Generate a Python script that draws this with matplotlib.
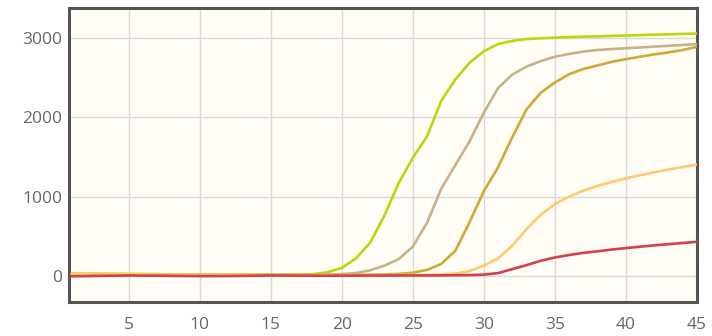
import matplotlib
matplotlib.use("Agg")
import matplotlib.pyplot as plt

cycles = list(range(1, 46))

green = [30, 28, 27, 26, 25, 24, 22, 20, 18, 16, 15, 14, 14, 14, 15, 15, 16,
         22, 45, 100, 220, 420, 760, 1170, 1490, 1760, 2210, 2480, 2690, 2835,
         2925, 2965, 2988, 2998, 3005, 3012, 3018, 3022, 3028, 3033, 3038,
         3043, 3048, 3053, 3058]
tan = [20, 19, 18, 17, 16, 15, 14, 13, 12, 12, 11, 11, 11, 11, 12, 12, 12,
       13, 15, 22, 35, 70, 130, 210, 370, 670, 1100, 1400, 1700, 2060, 2370,
       2540, 2640, 2710, 2765, 2800, 2830, 2850, 2862, 2872, 2882, 2893, 2903,
       2914, 2925]
gold = [15, 14, 14, 13, 13, 12, 12, 11, 11, 10, 10, 10, 10, 10, 10, 10, 10,
        10, 11, 12, 13, 15, 18, 25, 40, 75, 150, 320, 680, 1070, 1370, 1750,
        2100, 2310, 2440, 2545, 2610, 2655, 2700, 2735, 2765, 2795, 2820,
        2850, 2890]
orange = [25, 24, 23, 22, 20, 18, 16, 14, 12, 10, 9, 8, 8, 8, 8, 8, 8, 8, 8,
          8, 8, 9, 9, 10, 10, 12, 18, 30, 60, 130, 220, 380, 590, 770, 905,
          1000, 1075, 1135, 1185, 1230, 1270, 1308, 1342, 1374, 1405]
red = [-5, -3, 0, 2, 5, 3, 2, 0, -2, -3, -3, -2, 0, 2, 5, 4, 3, 2, 2, 3, 3,
       4, 4, 5, 5, 5, 6, 8, 10, 15, 35, 85, 135, 190, 232, 263, 290, 310, 332,
       350, 368, 385, 400, 415, 430]

series = [
    (green, "#b9d80c"),
    (tan, "#c9b186"),
    (gold, "#d3a935"),
    (orange, "#ffc971"),
    (red, "#d0434a"),
]

xticks = [5, 10, 15, 20, 25, 30, 35, 40, 45]
yticks = [0, 1000, 2000, 3000]

fig = plt.figure(figsize=(7.12, 3.36), dpi=100)
ax = fig.add_axes([69 / 712, 34 / 336, 628 / 712, 294 / 336])
ax.set_facecolor("#fffdf5")

for vals, col in series:
    ax.plot(cycles, vals, color=col, lw=1.9, solid_capstyle="round",
            solid_joinstyle="round", zorder=3)

ax.set_xlim(0.8, 45)
ax.set_ylim(-330, 3380)
ax.set_xticks(xticks)
ax.set_yticks(yticks)
ax.grid(True, color="#d9d9d9", lw=1.0, zorder=0)
ax.tick_params(length=0, labelsize=12.5, labelcolor="#666666")
ax.tick_params(axis="x", pad=11)
ax.tick_params(axis="y", pad=5)
for lab in ax.get_xticklabels() + ax.get_yticklabels():
    lab.set_family("Open Sans")
for s in ax.spines.values():
    s.set_color("#555555")
    s.set_linewidth(2.2)

fig.savefig("out.png", dpi=100, facecolor="white")
